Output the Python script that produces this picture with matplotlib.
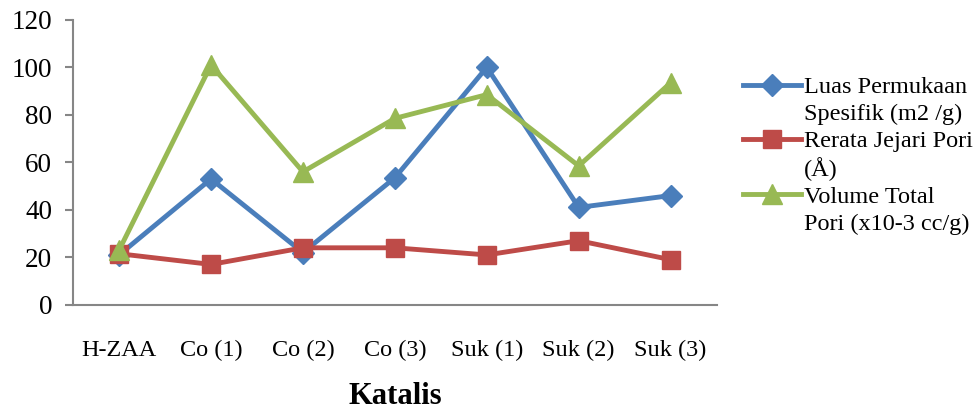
import matplotlib.pyplot as plt
from matplotlib.lines import Line2D

plt.rcParams['font.family'] = ['Liberation Serif', 'DejaVu Serif']

katalis = ['H-ZAA', 'Co (1)', 'Co (2)', 'Co (3)', 'Suk (1)', 'Suk (2)', 'Suk (3)']
luas = [21, 53, 22, 53.5, 100, 41, 46]
jejari = [21.5, 17, 24, 24, 21, 27, 19]
volume = [23, 101, 56, 78.5, 88.5, 58.5, 93.5]

blue = '#4A7EBB'
red = '#BE4B48'
green = '#98B954'

fig = plt.figure(figsize=(9.75, 4.13), dpi=100)
ax = fig.add_axes([0.075, 0.262, 0.660, 0.690])

x = list(range(len(katalis)))
ax.plot(x, luas, color=blue, lw=3.5, marker='D', ms=11, zorder=2)
ax.plot(x, jejari, color=red, lw=3.5, marker='s', ms=13, zorder=3)
ax.plot(x, volume, color=green, lw=3.5, marker='^', ms=15, zorder=4)

ax.set_xlim(-0.5, 6.5)
ax.set_ylim(0, 120)
ax.set_yticks(range(0, 121, 20))
ax.set_xticks(x)
ax.set_xticklabels(katalis)

for s in ['top', 'right']:
    ax.spines[s].set_visible(False)
for s in ['left', 'bottom']:
    ax.spines[s].set_color('#868686')
    ax.spines[s].set_linewidth(1.5)

ax.tick_params(axis='y', length=6, width=1.5, color='#868686', pad=9, labelsize=19.5)
ax.tick_params(axis='x', length=0, pad=25, labelsize=17.5)
ax.set_xlabel('Katalis', fontsize=22, fontweight='bold', labelpad=15)

# legend with two text rows per series, marker beside the first row
blank = Line2D([], [], color='none')
handles = [
    Line2D([], [], color=blue, lw=3.5, marker='D', ms=11), blank,
    Line2D([], [], color=red, lw=3.5, marker='s', ms=13), blank,
    Line2D([], [], color=green, lw=3.5, marker='^', ms=15), blank,
]
labels = ['Luas Permukaan', 'Spesifik (m2 /g)',
          'Rerata Jejari Pori', '(Å)',
          'Volume Total', 'Pori (x10-3 cc/g)']
fig.legend(handles, labels, loc='upper left', bbox_to_anchor=(0.762, 0.815),
           frameon=False, fontsize=17.5, handlelength=2.4, handletextpad=0.1,
           labelspacing=0.2, borderpad=0, borderaxespad=0)

fig.savefig('out.png', dpi=100)
